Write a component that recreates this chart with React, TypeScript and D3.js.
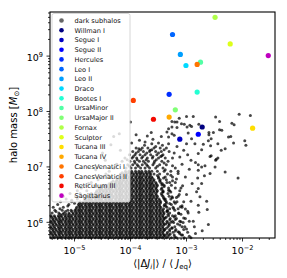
import { useEffect, useRef } from "react";
import * as d3 from "d3";

// satellites: log10 of <|dJ|>/<J_eq> and log10 of halo mass
const galaxyNames = [
  "Willman I", "Segue I", "Segue II", "Hercules", "Leo I", "Leo II", "Draco",
  "Bootes I", "UrsaMinor", "UrsaMajor II", "Fornax", "Sculptor", "Tucana III",
  "Tucana IV", "CanesVenatici I", "CanesVenatici II", "Reticulum III", "Sagittarius",
];
const galaxyLogJ = [
  -2.72, -3.12, -2.79, -3.31, -3.25, -3.11, -3.01, -2.81, -2.75, -3.2, -2.49,
  -2.22, -1.82, -3.31, -2.81, -3.95, -3.59, -1.54,
];
const galaxyLogM = [
  7.72, 7.5, 7.59, 8.31, 9.39, 9.03, 8.83, 8.35, 8.89, 8.03, 9.7, 9.22, 7.7,
  7.9, 8.85, 8.2, 7.86, 9.01,
];

// dark subhalos, dense part read row by row: [log mass, log J values]
const S1 = [-5.42,-5.36,-5.29,-5.24,-5.17,-5.11,-5.06,-4.99,-4.93,-4.88,-4.81,-4.75,-4.7,-4.63,-4.57,-4.52,-4.45,-4.39,-4.34,-4.27,-4.21,-4.16,-4.09,-4.03,-3.98,-3.91,-3.85,-3.8,-3.73,-3.67,-3.62,-3.55,-3.49,-3.43];
const S2 = [-5.39,-5.33,-5.27,-5.2,-5.14,-5.08,-5.02,-4.96,-4.9,-4.84,-4.78,-4.72,-4.66,-4.6,-4.54,-4.48,-4.42,-4.36,-4.3,-4.24,-4.18,-4.12,-4.06,-4.0,-3.94,-3.88,-3.82,-3.76,-3.7,-3.64,-3.58,-3.52,-3.46,-3.4];
const S3 = [-5.41,-5.35,-5.28,-5.23,-5.16,-5.1,-5.05,-4.98,-4.92,-4.87,-4.8,-4.74,-4.69,-4.62,-4.56,-4.51,-4.44,-4.38,-4.33,-4.26,-4.2,-4.15,-4.08,-4.02,-3.97,-3.9,-3.84,-3.79,-3.72,-3.66,-3.61,-3.54,-3.48,-3.42];
const S4 = [-5.38,-5.32,-5.26,-5.21,-5.15,-5.09,-5.03,-4.97,-4.91,-4.85,-4.79,-4.73,-4.67,-4.61,-4.55,-4.49,-4.43,-4.37,-4.31,-4.25,-4.19,-4.13,-4.07,-4.01,-3.95,-3.89,-3.83,-3.77,-3.71,-3.65,-3.59,-3.53,-3.47,-3.41];
const part = (s: number[], a: number, b: number) => s.filter((v) => v >= a && v <= b);

const cloudRows: [number, number[]][] = [
  [5.72, [...S1, -3.36, -3.27, -3.18, -3.04, -2.92]],
  [5.745, [...S4, -3.33]],
  [5.77, [...S2, -3.31, -3.22, -3.09]],
  [5.795, [...S3, -3.35, -3.12]],
  [5.82, [...S1, -3.34, -3.24, -3.13, -2.98]],
  [5.845, [...S4, -3.3, -3.2]],
  [5.87, [...S2, -3.3, -3.19, -3.05]],
  [5.895, [...S3, -3.36, -3.26]],
  [5.92, [...S1, -3.33, -3.21, -3.08, -2.86]],
  [5.945, [...S4, -3.31]],
  [5.97, [...S2, -3.31, -3.16]],
  [5.995, [...S3, -3.34, -3.23, -3.06]],
  [6.02, [...S1, -3.35, -3.25, -3.12, -2.95]],
  [6.045, [...S4, -3.3]],
  [6.07, [...S2, -3.29, -3.18, -3.02]],
  [6.095, [...S3, -3.36, -3.22]],
  [6.12, [...S1, -3.32, -3.2]],
  [6.145, [...part(S4, -5.3, -3.4), -3.33, -3.1]],
  [6.17, [-5.4, -5.28, -5.19, -5.1, ...part(S2, -5.03, -3.4), -3.3, -3.14, -2.97]],
  [6.195, [-5.33, -5.16, ...part(S3, -5.06, -3.42), -3.34]],
  [6.22, [-5.35, -5.22, -5.12, ...part(S1, -5.06, -3.42), -3.34, -3.21]],
  [6.245, [-5.26, ...part(S4, -5.0, -3.41), -3.3, -3.15]],
  [6.27, [-5.38, -5.2, ...part(S2, -4.96, -3.45), -3.35, -3.24, -3.08]],
  [6.295, [-5.12, ...part(S3, -4.95, -3.48), -3.37]],
  [6.32, [-5.3, -5.1, ...part(S1, -4.93, -3.49), -3.39, -3.27]],
  [6.345, [-5.0, ...part(S4, -4.92, -3.47), -3.36, -3.2]],
  [6.37, [-5.25, -5.05, ...part(S2, -4.9, -3.46), -3.36, -3.22, -3.05]],
  [6.395, [...part(S3, -4.86, -3.48), -3.38]],
  [6.42, [-5.15, -4.95, ...part(S1, -4.81, -3.49), -3.4, -3.28]],
  [6.445, [...part(S4, -4.77, -3.5), -3.41, -3.25]],
  [6.47, [-5.2, -4.98, ...part(S2, -4.78, -3.52), -3.42, -3.31, -3.15]],
  [6.495, [...part(S3, -4.72, -3.54), -3.44]],
  [6.52, [-5.08, -4.9, ...part(S1, -4.7, -3.55), -3.45, -3.33]],
  [6.545, [...part(S4, -4.65, -3.53), -3.42, -3.28]],
  [6.57, [-4.95, -4.78, ...part(S2, -4.6, -3.52), -3.42, -3.3, -3.12]],
  [6.595, [...part(S3, -4.56, -3.54), -3.45]],
  [6.62, [-4.88, ...part(S1, -4.52, -3.55), -3.44, -3.32]],
  [6.645, [...part(S4, -4.49, -3.53), -3.4]],
  [6.67, [-4.8, -4.62, ...part(S2, -4.42, -3.52), -3.4, -3.27]],
  [6.695, [...part(S3, -4.38, -3.54), -3.43]],
  [6.72, [-4.7, ...part(S1, -4.34, -3.55), -3.46, -3.35, -3.2]],
  [6.745, [...part(S4, -4.31, -3.59), -3.48]],
  [6.77, [-4.58, ...part(S2, -4.24, -3.58), -3.47, -3.36]],
  [6.795, [...part(S3, -4.2, -3.61), -3.5]],
  [6.82, [-4.5, -4.35, ...part(S1, -4.21, -3.62), -3.5, -3.38, -3.25]],
  [6.845, [...part(S4, -4.19, -3.65), -3.52]],
  [6.87, [-4.44, ...part(S2, -4.18, -3.58), -3.48, -3.34]],
  [6.895, [...part(S3, -4.15, -3.66)]],
  [6.92, [-4.38, ...part(S1, -4.09, -3.62), -3.52, -3.4, -3.28]],
  [6.98, [-4.3, -4.08, -3.99, -3.91, -3.82, -3.74, -3.66, -3.55, -3.42]],
  [7.01, [-4.02, -3.86, -3.69, -3.52]],
  [7.04, [-4.24, -4.05, -3.96, -3.88, -3.79, -3.71, -3.6, -3.48, -3.36]],
  [7.07, [-3.92, -3.74, -3.58, -3.4]],
  [7.1, [-4.15, -4.01, -3.93, -3.84, -3.77, -3.68, -3.57, -3.44]],
  [7.13, [-4.06, -3.88, -3.72, -3.54]],
  [7.16, [-4.1, -3.97, -3.89, -3.8, -3.7, -3.61, -3.5, -3.38, -3.25]],
  [7.19, [-3.95, -3.78, -3.6, -3.46]],
  [7.22, [-4.02, -3.92, -3.83, -3.74, -3.64, -3.53, -3.42]],
  [7.25, [-3.9, -3.71, -3.5]],
  [7.28, [-3.96, -3.86, -3.77, -3.66, -3.55, -3.45, -3.31]],
  [7.31, [-3.82, -3.62, -3.4]],
  [7.34, [-3.9, -3.79, -3.69, -3.58, -3.47, -3.36]],
];

// dark subhalos, sparse part [log J, log M]
const sparsePts: [number, number][] = [
  [-2.48,7.9],[-2.41,7.82],[-2.06,7.95],[-1.86,7.93],[-2.78,7.77],[-2.19,7.79],[-2.15,7.76],
  [-2.6,7.62],[-2.6,7.58],[-2.52,7.62],[-2.41,7.67],[-2.37,7.66],[-2.25,7.54],[-2.21,7.55],
  [-2.56,7.51],[-2.61,7.47],[-2.44,7.42],[-2.16,7.43],[-1.96,7.47],[-1.94,7.39],[-2.85,7.42],
  [-2.7,7.41],[-2.57,7.38],[-2.73,7.31],[-2.38,7.3],[-2.31,7.33],[-2.79,7.24],[-2.58,7.19],
  [-2.47,7.14],[-2.44,7.16],[-2.56,7.2],[-2.48,7.12],[-2.84,7.08],[-2.79,7.04],[-2.73,7.0],
  [-2.67,7.02],[-2.79,6.94],[-2.49,7.0],[-2.31,6.91],[-2.58,6.88],[-2.68,6.84],[-2.8,6.8],
  [-2.08,6.8],[-2.73,6.7],[-2.79,6.61],[-2.82,6.55],[-2.76,6.46],[-2.64,6.38],[-2.79,6.31],
  [-2.63,6.23],[-2.78,6.18],[-2.61,5.96],
  [-3.13,7.88],[-3.0,7.91],[-2.88,7.91],[-3.26,7.82],[-3.17,7.81],[-3.09,7.78],[-3.04,7.77],
  [-2.94,7.75],[-3.32,7.69],[-3.17,7.71],[-3.63,7.62],[-3.35,7.63],[-3.26,7.6],[-3.22,7.57],
  [-3.32,7.54],[-2.97,7.61],[-2.91,7.51],[-3.84,7.48],[-3.98,7.43],[-3.74,7.45],[-3.62,7.42],
  [-3.5,7.43],[-3.43,7.39],[-3.32,7.42],[-3.17,7.37],[-3.0,7.42],[-2.99,7.72],[-2.91,7.73],
  [-3.26,7.72],[-3.21,7.81],
  [-3.05,7.3],[-2.98,7.22],[-3.12,7.18],[-2.92,7.12],[-3.08,7.05],[-3.2,6.98],[-2.95,6.96],
  [-3.15,6.88],[-3.02,6.82],[-3.25,6.75],[-2.9,6.7],[-3.1,6.62],[-3.0,6.5],[-3.18,6.45],
  [-2.92,6.38],[-3.08,6.3],[-2.98,6.2],[-3.05,6.08],[-2.88,6.02],[-3.0,5.88],[-2.84,5.8],
  [-2.95,5.75],[-2.72,5.85],
  [-4.0,7.81],[-4.3,7.55],[-4.18,7.3],[-4.45,7.12],[-4.62,6.95],[-4.25,7.05],[-4.4,6.85],
  [-4.75,6.7],[-4.55,6.62],[-4.9,6.5],[-5.05,6.4],[-4.35,7.4],[-4.2,7.6],[-4.5,7.25],
  // edge of the dense cloud
  [-3.38,5.76],[-3.29,5.79],[-3.21,5.74],[-3.15,5.83],[-3.07,5.77],[-3.39,5.86],[-3.26,5.9],
  [-3.12,5.95],[-3.03,5.92],[-3.37,5.97],[-3.28,6.0],[-3.2,6.05],[-3.1,6.01],[-3.38,6.08],
  [-3.25,6.12],[-3.14,6.16],[-3.35,6.2],[-3.23,6.25],[-3.11,6.28],[-3.02,6.24],[-3.4,6.3],
  [-3.3,6.34],[-3.17,6.37],[-3.38,6.42],[-3.26,6.46],[-3.13,6.5],[-3.42,6.55],[-3.32,6.58],
  [-3.2,6.62],[-3.07,6.66],[-3.44,6.68],[-3.3,6.72],[-3.18,6.78],[-3.41,6.8],[-3.28,6.85],
  [-3.15,6.92],[-3.38,6.95],[-3.25,7.02],[-3.33,7.1],[-3.44,7.2],[-3.22,7.25],[-3.55,7.37],
  [-3.65,7.3],[-3.75,7.39],[-3.85,7.33],[-3.6,7.5],[-3.45,7.55],[-3.7,7.56],[-3.9,7.58],
];

const xTickExp = [-5, -4, -3, -2];
const yTickExp = [6, 7, 8, 9];

// matplotlib jet
const jetR = d3.scaleLinear([0, 0.35, 0.66, 0.89, 1], [0, 0, 1, 1, 0.5]);
const jetG = d3.scaleLinear([0, 0.125, 0.375, 0.64, 0.91, 1], [0, 0, 1, 1, 0, 0]);
const jetB = d3.scaleLinear([0, 0.11, 0.34, 0.65, 1], [0.5, 1, 1, 0, 0]);
const jet = (t: number) =>
  d3.rgb(jetR(t) * 255, jetG(t) * 255, jetB(t) * 255).formatHex();

const W = 287, H = 278;
const margin = { top: 12, right: 12, bottom: 40, left: 50 };
const font = "DejaVu Sans, sans-serif";

export default function App() {
  const svgRef = useRef<SVGSVGElement | null>(null);

  useEffect(() => {
    const svg = d3.select(svgRef.current);
    svg.selectAll("*").remove();

    const x = d3.scaleLog().domain([10 ** -5.4375, 10 ** -1.42]).range([margin.left, W - margin.right]);
    const y = d3.scaleLog().domain([10 ** 5.717, 10 ** 9.796]).range([H - margin.bottom, margin.top]);
    const [x0, x1] = x.range();
    const [y0, y1] = y.range();

    const colors = galaxyNames.map((d, i) =>
      d === "Sagittarius" ? "#bf00bf" : jet((i * 0.9) / 16)
    );

    // dark subhalos
    const dark: [number, number][] = [];
    cloudRows.forEach(([m, js]) => js.forEach((j) => dark.push([j, m])));
    sparsePts.forEach((p) => dark.push(p));

    svg.append("g")
      .selectAll("circle")
      .data(dark)
      .enter()
      .append("circle")
      .attr("cx", (d) => x(10 ** d[0]))
      .attr("cy", (d) => y(10 ** d[1]))
      .attr("r", 1.5)
      .attr("fill", "#000")
      .attr("fill-opacity", 0.72);

    svg.append("g")
      .selectAll("circle")
      .data(galaxyNames)
      .enter()
      .append("circle")
      .attr("cx", (_, i) => x(10 ** galaxyLogJ[i]))
      .attr("cy", (_, i) => y(10 ** galaxyLogM[i]))
      .attr("r", 2.6)
      .attr("fill", (_, i) => colors[i]);

    // ticks
    const ax = svg.append("g").attr("stroke", "#000").attr("stroke-width", 0.8);
    for (let e = -6; e <= -1; e++) {
      for (let k = 1; k <= 9; k++) {
        const px = x(k * 10 ** e);
        if (px < x0 - 0.1 || px > x1 + 0.1) continue;
        ax.append("line").attr("x1", px).attr("x2", px).attr("y1", y0).attr("y2", y0 + (k === 1 ? 3.5 : 2));
      }
    }
    for (let e = 5; e <= 9; e++) {
      for (let k = 1; k <= 9; k++) {
        const py = y(k * 10 ** e);
        if (py > y0 + 0.1 || py < y1 - 0.1) continue;
        ax.append("line").attr("y1", py).attr("y2", py).attr("x1", x0).attr("x2", x0 - (k === 1 ? 3.5 : 2));
      }
    }

    const tl = svg.append("g").attr("font-family", font).attr("font-size", 9.5).style("fill", "#000");
    xTickExp.forEach((e) => {
      const t = tl.append("text").attr("x", x(10 ** e)).attr("y", y0 + 15.5).attr("text-anchor", "middle");
      t.append("tspan").text("10");
      t.append("tspan").attr("dy", -4).attr("font-size", 6.6).text("\u2212" + Math.abs(e));
    });
    yTickExp.forEach((e) => {
      const t = tl.append("text").attr("x", x0 - 7).attr("y", y(10 ** e) + 4.5).attr("text-anchor", "end");
      t.append("tspan").text("10");
      t.append("tspan").attr("dy", -4).attr("font-size", 6.6).text(String(e));
    });

    // axis labels
    const lab = svg.append("g").attr("font-family", font).attr("font-size", 10).style("fill", "#000");
    const xt = lab.append("text").attr("x", (x0 + x1) / 2).attr("y", 267).attr("text-anchor", "middle");
    xt.append("tspan").text("\u27e8|\u0394");
    xt.append("tspan").attr("font-style", "italic").text("J");
    xt.append("tspan").attr("font-size", 7).attr("dy", 2).attr("font-style", "italic").text("i");
    xt.append("tspan").attr("dy", -2).text("|\u27e9 / \u27e8 ");
    xt.append("tspan").attr("font-style", "italic").text("J");
    xt.append("tspan").attr("font-size", 7).attr("dy", 2).text("eq");
    xt.append("tspan").attr("dy", -2).text("\u27e9");

    const yt = lab.append("text")
      .attr("transform", `translate(17,${(y0 + y1) / 2}) rotate(-90)`)
      .attr("text-anchor", "middle");
    yt.append("tspan").text("halo mass [");
    yt.append("tspan").attr("font-style", "italic").text("M");
    yt.append("tspan").attr("font-size", 7).attr("dy", 2).text("\u2299");
    yt.append("tspan").attr("dy", -2).text("]");

    // legend
    const lg = svg.append("g");
    lg.append("rect")
      .attr("x", 52).attr("y", 13.5).attr("width", 78).attr("height", 188.5).attr("rx", 2)
      .attr("fill", "#fff").attr("fill-opacity", 0.8)
      .attr("stroke", "#cccccc").attr("stroke-width", 0.8);
    const entries = ["dark subhalos", ...galaxyNames];
    const entryColors = ["#000", ...colors];
    entries.forEach((name, i) => {
      const cy = 20.5 + i * 9.73;
      lg.append("circle").attr("cx", 61.5).attr("cy", cy).attr("r", 2.3)
        .attr("fill", entryColors[i]).attr("fill-opacity", i === 0 ? 0.6 : 1);
      lg.append("text").attr("x", 74.5).attr("y", cy + 2.4)
        .attr("font-family", font).attr("font-size", 6.6).style("fill", "#111").text(name);
    });

    // frame
    svg.append("rect")
      .attr("x", x0).attr("y", y1).attr("width", x1 - x0).attr("height", y0 - y1)
      .attr("fill", "none").attr("stroke", "#000").attr("stroke-width", 1.1);
  }, []);

  return (
    <svg ref={svgRef} width={W} height={H}
      style={{ position: "absolute", left: 0, top: 0, background: "#fff" }} />
  );
}
